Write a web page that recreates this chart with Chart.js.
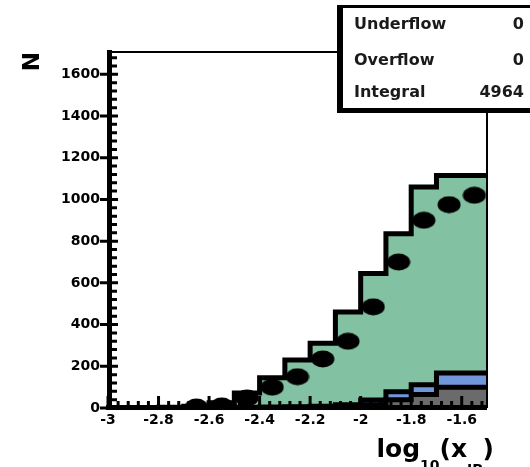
<!DOCTYPE html>
<html>
<head>
<meta charset="utf-8">
<script src="https://cdn.jsdelivr.net/npm/chart.js@4.4.1/dist/chart.umd.min.js"></script>
<style>
  html, body { margin: 0; padding: 0; background: #fff; }
  canvas { display: block; }
</style>
</head>
<body>
<canvas id="chart1" width="530" height="467"></canvas>
<script>
// histogram bins (low edges), width 0.1
const binLow = [-3.0, -2.9, -2.8, -2.7, -2.6, -2.5, -2.4, -2.3, -2.2, -2.1, -2.0, -1.9, -1.8, -1.7, -1.6];
const binWidth = 0.1;

// MC total (green), stacked backgrounds (blue on top of grey)
const mcTotal = [0, 0, 0, 3, 8, 25, 72, 145, 230, 310, 460, 645, 835, 1060, 1115];
const bkgBlue = [0, 0, 0, 0, 2, 3, 4, 5, 6, 8, 15, 38, 78, 112, 168];
const bkgGrey = [0, 0, 0, 0, 1, 1, 2, 2, 3, 4, 6, 15, 40, 65, 100];

// data points
const dataX = [-2.65, -2.55, -2.45, -2.35, -2.25, -2.15, -2.05, -1.95, -1.85, -1.75, -1.65, -1.55];
const dataN = [5, 10, 48, 100, 150, 235, 320, 485, 700, 900, 975, 1020];

const xTickLabels = [-3, -2.8, -2.6, -2.4, -2.2, -2, -1.8, -1.6];
const yTickLabels = [0, 200, 400, 600, 800, 1000, 1200, 1400, 1600];

const statLabels = ['Underflow', 'Overflow', 'Integral'];
const statValues = ['0', '0', '4964'];

const FONT = 'DejaVu Sans';

function steps(values) {
    const pts = binLow.map((x, i) => ({ x: x, y: values[i] }));
    pts.push({ x: binLow[binLow.length - 1] + binWidth, y: values[values.length - 1] });
    return pts;
}

// elliptical marker like the stretched ROOT dots
const dot = document.createElement('canvas');
dot.width = 24;
dot.height = 18;
const dctx = dot.getContext('2d');
dctx.fillStyle = '#000';
dctx.beginPath();
dctx.ellipse(12, 9, 11.5, 8.5, 0, 0, Math.PI * 2);
dctx.fill();

const histStyle = {
    stepped: 'after',
    fill: 'origin',
    borderColor: '#000',
    borderWidth: 5,
    pointRadius: 0,
    borderJoinStyle: 'miter'
};

const frame = {
    id: 'frame',
    afterDatasetsDraw(chart) {
        const { ctx, chartArea: a, scales: { x, y } } = chart;
        ctx.save();
        ctx.fillStyle = '#000';
        // thin top / right frame
        ctx.fillRect(a.left, a.top - 1, a.right - a.left, 2);
        ctx.fillRect(a.right - 1, a.top - 1, 2, a.bottom - a.top + 1);
        // thick axes
        ctx.fillRect(a.left - 1, a.top - 2, 5, a.bottom - a.top + 4);
        ctx.fillRect(a.left - 2, a.bottom - 3, a.right - a.left + 2, 5);

        ctx.strokeStyle = '#000';
        ctx.lineWidth = 3;
        ctx.beginPath();
        for (let v = -3; v <= -1.5 + 1e-9; v += 0.04) {
            const px = x.getPixelForValue(v);
            ctx.moveTo(px, a.bottom);
            ctx.lineTo(px, a.bottom - 7);
        }
        xTickLabels.forEach(v => {
            const px = x.getPixelForValue(v);
            ctx.moveTo(px, a.bottom);
            ctx.lineTo(px, a.bottom - 12);
        });
        for (let v = 0; v <= y.max; v += 40) {
            const py = y.getPixelForValue(v);
            ctx.moveTo(a.left, py);
            ctx.lineTo(a.left + 9, py);
        }
        yTickLabels.forEach(v => {
            const py = y.getPixelForValue(v);
            ctx.moveTo(a.left - 8, py);
            ctx.lineTo(a.left + 10, py);
        });
        ctx.stroke();
        ctx.restore();
    }
};

const labels = {
    id: 'labels',
    afterDraw(chart) {
        const { ctx, chartArea: a } = chart;
        ctx.save();

        // stat box
        ctx.fillStyle = '#fff';
        ctx.fillRect(340, 6, 200, 104);
        ctx.fillStyle = '#000';
        ctx.fillRect(340, 5, 200, 3);
        ctx.fillRect(337, 5, 6, 108);
        ctx.fillRect(337, 108, 200, 5);
        ctx.fillStyle = '#1a1a1a';
        ctx.font = 'bold 16px ' + FONT;
        ctx.textBaseline = 'middle';
        const rows = [25, 61, 93];
        statLabels.forEach((t, i) => {
            ctx.textAlign = 'left';
            ctx.fillText(t, 354, rows[i]);
            ctx.textAlign = 'right';
            ctx.fillText(statValues[i], 524, rows[i]);
        });

        // x axis title: log10(xIP)
        ctx.fillStyle = '#000';
        ctx.textAlign = 'left';
        ctx.textBaseline = 'alphabetic';
        const big = 'bold 25px ' + FONT;
        const small = 'bold 14px ' + FONT;
        const parts = [
            ['log', big, 0],
            ['10', small, 13],
            ['(x', big, 0],
            ['IP', small, 17],
            [')', big, 0]
        ];
        let w = 0;
        parts.forEach(p => { ctx.font = p[1]; w += ctx.measureText(p[0]).width; });
        let px = a.right + 7 - w;
        const base = 457;
        parts.forEach(p => {
            ctx.font = p[1];
            ctx.fillText(p[0], px, base + p[2]);
            px += ctx.measureText(p[0]).width;
        });
        ctx.restore();
    }
};

new Chart(document.getElementById('chart1'), {
    type: 'line',
    data: {
        datasets: [
            {
                label: 'Data',
                data: dataX.map((x, i) => ({ x: x, y: dataN[i] })),
                showLine: false,
                pointStyle: dot,
                pointRadius: 10
            },
            Object.assign({ label: 'bkg 1', data: steps(bkgGrey), backgroundColor: '#6b6b6b' }, histStyle),
            Object.assign({ label: 'bkg 2', data: steps(bkgBlue), backgroundColor: '#7096dc' }, histStyle),
            Object.assign({ label: 'MC', data: steps(mcTotal), backgroundColor: '#82c1a2' }, histStyle)
        ]
    },
    options: {
        responsive: false,
        animation: false,
        layout: { padding: { left: 0, top: 52, right: 43, bottom: 0 } },
        plugins: {
            legend: { display: false },
            tooltip: { enabled: false }
        },
        scales: {
            x: {
                type: 'linear',
                min: -3,
                max: -1.5,
                grid: { display: false, drawTicks: false },
                border: { display: false },
                afterBuildTicks: s => { s.ticks = xTickLabels.map(v => ({ value: v })); },
                afterFit: s => { s.height = 59; },
                ticks: {
                    padding: 4,
                    maxRotation: 0,
                    autoSkip: false,
                    color: '#000',
                    font: { family: FONT, size: 14, weight: 'bold' },
                    callback: v => String(Math.round(v * 10) / 10)
                }
            },
            y: {
                min: 0,
                max: 1707,
                grid: { display: false, drawTicks: false },
                border: { display: false },
                afterBuildTicks: s => { s.ticks = yTickLabels.map(v => ({ value: v })); },
                afterFit: s => { s.width = 108; },
                ticks: {
                    padding: 8,
                    color: '#000',
                    font: { family: FONT, size: 14, weight: 'bold' },
                    callback: v => String(v)
                },
                title: {
                    display: true,
                    text: 'N',
                    align: 'end',
                    color: '#000',
                    font: { family: FONT, size: 23, weight: 'bold' },
                    padding: { top: 19, bottom: 0 }
                }
            }
        }
    },
    plugins: [frame, labels]
});
</script>
</body>
</html>
